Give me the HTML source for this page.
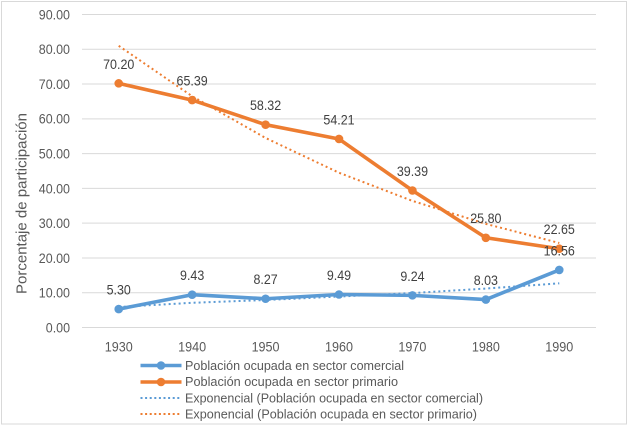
<!DOCTYPE html>
<html lang="es">
<head>
<meta charset="utf-8">
<title>Porcentaje de participación</title>
<style>
html,body{margin:0;padding:0;background:#fff;width:629px;height:428px;overflow:hidden}
svg{display:block;font-family:"Liberation Sans",sans-serif}
</style>
</head>
<body>
<svg id="chart" xmlns="http://www.w3.org/2000/svg" width="629" height="428" viewBox="0 0 629 428">
  <rect x="1.5" y="1.5" width="625" height="422.5" fill="#fff" stroke="#d9d9d9" stroke-width="1"/>
  <g id="grid"></g>
  <g id="yticks"></g>
  <g id="xticks"></g>
  <g id="series"></g>
  <g id="labels"></g>
  <text transform="translate(26.5,294) rotate(-90)" font-size="14.5" fill="#595959" textLength="181" lengthAdjust="spacingAndGlyphs">Porcentaje de participación</text>
  <g font-size="13.2" fill="#595959">
    <g>
      <line x1="140.5" x2="181.5" y1="365.5" y2="365.5" stroke="#5B9BD5" stroke-width="3.6"/>
      <circle cx="161" cy="365.5" r="4.3" fill="#5B9BD5"/>
      <text x="185" y="370" textLength="219" lengthAdjust="spacingAndGlyphs">Población ocupada en sector comercial</text>
    </g>
    <g>
      <line x1="140.5" x2="181.5" y1="382" y2="382" stroke="#ED7D31" stroke-width="3.6"/>
      <circle cx="161" cy="382" r="4.3" fill="#ED7D31"/>
      <text x="185" y="386" textLength="213" lengthAdjust="spacingAndGlyphs">Población ocupada en sector primario</text>
    </g>
    <g>
      <line x1="140.5" x2="180" y1="398" y2="398" stroke="#5B9BD5" stroke-width="2" stroke-dasharray="2 2.6"/>
      <text x="185" y="402.5" textLength="298" lengthAdjust="spacingAndGlyphs">Exponencial (Población ocupada en sector comercial)</text>
    </g>
    <g>
      <line x1="140.5" x2="180" y1="414" y2="414" stroke="#ED7D31" stroke-width="2" stroke-dasharray="2 2.6"/>
      <text x="185" y="418.5" textLength="292" lengthAdjust="spacingAndGlyphs">Exponencial (Población ocupada en sector primario)</text>
    </g>
  </g>
</svg>
<script>
var categories = ['1930', '1940', '1950', '1960', '1970', '1980', '1990'];
var yTickValues = [0, 10, 20, 30, 40, 50, 60, 70, 80, 90];
var comercialValues = [5.30, 9.43, 8.27, 9.49, 9.24, 8.03, 16.56];
var primarioValues = [70.20, 65.39, 58.32, 54.21, 39.39, 25.80, 22.65];
var comercialTrend = [5.9, 7.1, 7.9, 8.9, 9.9, 11.2, 12.7];
var primarioTrend = [81.0, 66.5, 54.5, 44.5, 36.4, 29.8, 24.3];

var NS = 'http://www.w3.org/2000/svg';
var plotLeft = 82, plotRight = 596, plotTop = 14.5, plotBottom = 327.5, yMax = 90;

function xAt(i) {
  var step = (plotRight - plotLeft) / categories.length;
  return plotLeft + step * (i + 0.5);
}
function yAt(v) {
  return plotBottom - (v / yMax) * (plotBottom - plotTop);
}
function make(tag, attrs, parent) {
  var el = document.createElementNS(NS, tag);
  for (var k in attrs) el.setAttribute(k, attrs[k]);
  parent.appendChild(el);
  return el;
}
function pointsOf(values) {
  return values.map(function (v, i) { return xAt(i) + ',' + yAt(v); }).join(' ');
}
function narrowWidth(str) {
  var w = 0;
  for (var i = 0; i < str.length; i++) w += str.charAt(i) === '.' ? 3.2 : 7;
  return w;
}

var grid = document.getElementById('grid');
var yticks = document.getElementById('yticks');
var xticks = document.getElementById('xticks');
var seriesGroup = document.getElementById('series');
var labelsGroup = document.getElementById('labels');

yTickValues.forEach(function (v) {
  var line = make('line', {x1: plotLeft, x2: plotRight, y1: yAt(v), y2: yAt(v), stroke: '#d9d9d9', 'stroke-width': 1}, grid);
  
  
  var s = v.toFixed(2);
  var t = make('text', {x: 70, y: yAt(v) + 4.9, 'text-anchor': 'end', 'font-size': 13.4, fill: '#595959', textLength: narrowWidth(s), lengthAdjust: 'spacingAndGlyphs'}, yticks);
  
  
  t.textContent = s;
});

categories.forEach(function (c, i) {
  var t = make('text', {x: xAt(i), y: 351.5, 'text-anchor': 'middle', 'font-size': 13.4, fill: '#595959', textLength: narrowWidth(c), lengthAdjust: 'spacingAndGlyphs'}, xticks);
  
  
  t.textContent = c;
});

function drawSeries(values, color, name) {
  var line = make('polyline', {points: pointsOf(values), fill: 'none', stroke: color, 'stroke-width': 3.6, 'stroke-linejoin': 'round', 'stroke-linecap': 'round'}, seriesGroup);
  
  
  values.forEach(function (v, i) {
    var dot = make('circle', {cx: xAt(i), cy: yAt(v), r: 4.3, fill: color}, seriesGroup);
    
    
    var s = v.toFixed(2);
    var label = make('text', {x: xAt(i), y: yAt(v) - 14.6, 'text-anchor': 'middle', 'font-size': 13.4, fill: '#404040', textLength: narrowWidth(s), lengthAdjust: 'spacingAndGlyphs'}, labelsGroup);
    
    
    label.textContent = s;
  });
}
function drawTrend(values, color, name) {
  var line = make('polyline', {points: pointsOf(values), fill: 'none', stroke: color, 'stroke-width': 2, 'stroke-dasharray': '2 3'}, seriesGroup);
  
  
}

drawSeries(comercialValues, '#5B9BD5', 'comercial');
drawSeries(primarioValues, '#ED7D31', 'primario');
drawTrend(comercialTrend, '#5B9BD5', 'comercial-trendline');
drawTrend(primarioTrend, '#ED7D31', 'primario-trendline');
</script>
</body>
</html>
